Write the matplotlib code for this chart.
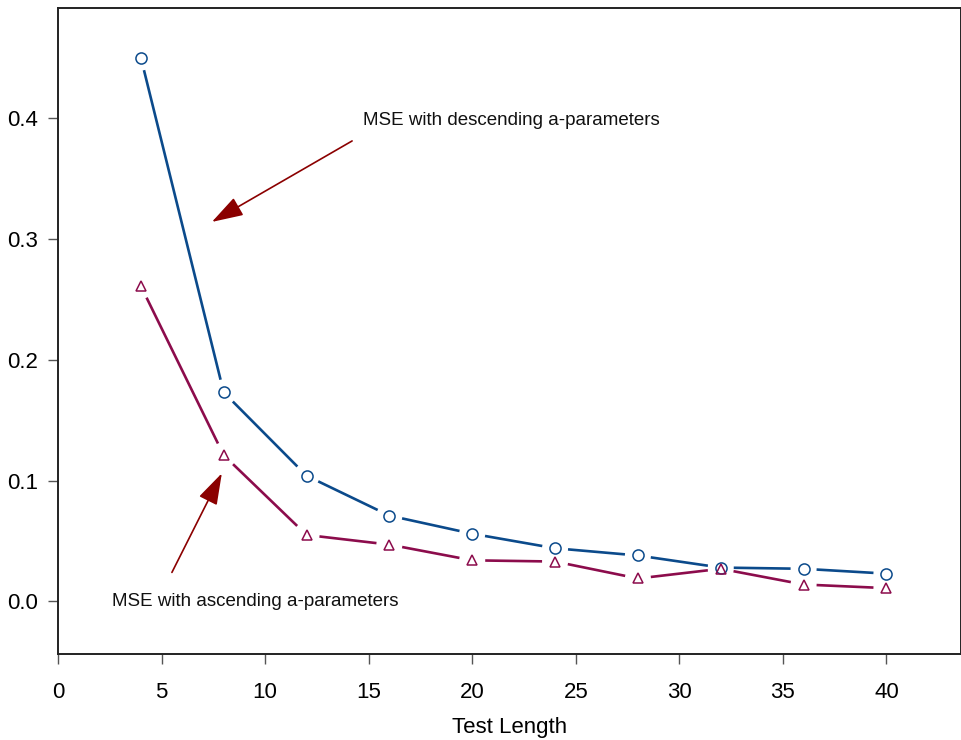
import numpy as np
import matplotlib
matplotlib.use("Agg")
import matplotlib.pyplot as plt

plt.rcParams['font.family'] = ['Liberation Sans', 'DejaVu Sans']

test_length = [4, 8, 12, 16, 20, 24, 28, 32, 36, 40]
mse_descending = [0.450, 0.173, 0.104, 0.071, 0.056, 0.044, 0.038, 0.028, 0.027, 0.023]
mse_ascending = [0.261, 0.121, 0.055, 0.047, 0.034, 0.033, 0.019, 0.027, 0.014, 0.011]

blue = '#0b4a8b'
red = '#8c0c4c'
arrow_red = '#8b0000'


def gapped_line(ax, x, y, color, gap=13):
    # draw the connecting segments with a gap round every marker (like R type="b")
    trans = ax.transData
    inv = trans.inverted()
    pts = trans.transform(np.column_stack([x, y]))
    for p0, p1 in zip(pts[:-1], pts[1:]):
        d = p1 - p0
        n = np.hypot(*d)
        if n <= 2 * gap:
            continue
        u = d / n
        a = inv.transform(p0 + u * gap)
        b = inv.transform(p1 - u * gap)
        ax.plot([a[0], b[0]], [a[1], b[1]], color=color, lw=1.9,
                solid_capstyle='butt')


fig = plt.figure(figsize=(9.62, 7.40), dpi=100)
ax = fig.add_axes([58 / 962, 1 - 654 / 740, 903 / 962, 646 / 740])
ax.set_xlim(0, 43.6)
ax.set_ylim(-0.0435, 0.491)

gapped_line(ax, test_length, mse_descending, blue)
gapped_line(ax, test_length, mse_ascending, red)
ax.plot(test_length, mse_descending, 'o', ms=8, mfc='none', mec=blue, mew=1.1)
ax.plot(test_length, mse_ascending, '^', ms=7, mfc='none', mec=red, mew=1.1)

head = '-|>,head_length=1.95,head_width=0.62'
ax.annotate('', xy=(7.43, 0.314), xytext=(14.2, 0.381),
            arrowprops=dict(arrowstyle=head, color=arrow_red, lw=1.2,
                            shrinkA=0, shrinkB=0))
ax.annotate('', xy=(7.91, 0.106), xytext=(5.5, 0.024),
            arrowprops=dict(arrowstyle=head, color=arrow_red, lw=1.2,
                            shrinkA=0, shrinkB=0))
ax.text(14.75, 0.398, 'MSE with descending a-parameters', fontsize=13.5,
        ha='left', va='center', color='#111111')
ax.text(2.6, 0.0, 'MSE with ascending a-parameters', fontsize=13.5,
        ha='left', va='center', color='#111111')

ax.set_xticks([0, 5, 10, 15, 20, 25, 30, 35, 40])
ax.set_yticks([0.0, 0.1, 0.2, 0.3, 0.4])
ax.set_yticklabels(['0.0', '0.1', '0.2', '0.3', '0.4'])
ax.tick_params(direction='out', length=7.2, width=1, color='#555555',
               labelsize=16)
ax.tick_params(axis='y', pad=7)
ax.tick_params(axis='x', pad=13)
ax.set_xlabel('Test Length', fontsize=16, labelpad=10)
for s in ax.spines.values():
    s.set_linewidth(1.4)
    s.set_color('#222222')

fig.savefig('out.png', dpi=100)
